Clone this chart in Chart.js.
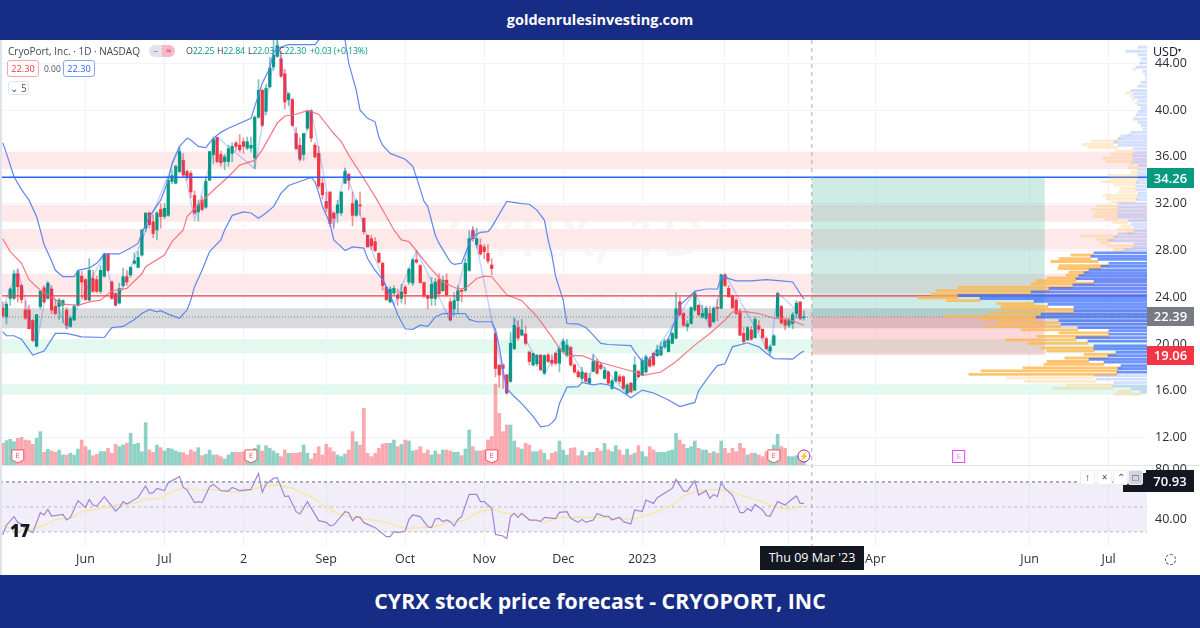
<!DOCTYPE html>
<html>
<head>
<meta charset="utf-8">
<title>CYRX stock price forecast</title>
<script src="https://cdn.jsdelivr.net/npm/chart.js@4"></script>
<style>
    html, body { margin: 0; padding: 0; background: #fff; }
    #page { position: relative; width: 1200px; height: 628px; overflow: hidden; font-family: "Open Sans", sans-serif; background: #fff; }
    #page div, #page span { position: absolute; white-space: nowrap; }
    canvas { position: absolute; left: 0; }
    #mainChart { top: 40px; }
    #profileChart { top: 40px; }
    .band { left: 0; width: 1200px; background: #172c85; color: #fff; font-weight: 700; text-align: center; }
    .badge { left: 1147px; width: 47px; color: #fff; font-size: 13px; font-weight: 600; text-align: center; }
    .mini { width: 13px; height: 13px; top: 470px; background: #fff; border: 1px solid #eceef3; border-radius: 2px; color: #444; font-size: 10px; line-height: 13px; text-align: center; }
    .box { border-radius: 3px; font-size: 9.2px; height: 15px; line-height: 15px; text-align: center; background: #fff; }
    .ohlc { top: 43px; font-size: 8.9px; line-height: 16px; color: #434651; letter-spacing: -0.2px; }
    .ohlc b { font-weight: 400; color: #089981; }
</style>
</head>
<body>
<div id="page">
    <div style="left:445px;top:192px;font-size:60px;color:rgba(120,123,134,0.06);font-weight:600">CYRX, 1D</div>
    <div style="left:497px;top:268px;font-size:30px;color:rgba(120,123,134,0.07)">CryoPort, Inc.</div>
    <canvas id="mainChart" width="1200" height="535"></canvas>
    <canvas id="profileChart" width="1147" height="425"></canvas>

    <div class="band" style="top:0;height:40px;line-height:40px;font-size:14.5px">goldenrulesinvesting.com</div>
    <div class="band" style="top:575px;height:53px;line-height:52px;font-size:21.3px">CYRX stock price forecast - CRYOPORT, INC</div>
    <div style="left:0;top:40px;width:2px;height:535px;background:#e0e3eb"></div>

    <div style="left:8px;top:42px;font-size:10px;line-height:18px;color:#434651">CryoPort, Inc. · 1D · NASDAQ</div>
    <div style="left:149px;top:45px;width:13px;height:12px;background:#e0e3eb;border-radius:6px 0 0 6px;font-size:9px;line-height:11px;text-align:center;color:#787b86">–</div>
    <div style="left:162px;top:45px;width:13px;height:12px;background:#f9b8c6;border-radius:0 6px 6px 0;font-size:9px;line-height:11px;text-align:center;color:#d81b60">≈</div>
    <div class="ohlc" style="left:186px">O<b>22.25</b></div>
    <div class="ohlc" style="left:217px">H<b>22.84</b></div>
    <div class="ohlc" style="left:248px">L<b>22.03</b></div>
    <div class="ohlc" style="left:279px">C<b>22.30</b></div>
    <div class="ohlc" style="left:310px"><b>+0.03 (+0.13%)</b></div>
    <div class="box" style="left:7px;top:60px;width:30px;border:1px solid #f7a6ad;color:#f23645">22.30</div>
    <div style="left:44px;top:60px;font-size:8.5px;line-height:17px;color:#50535e">0.00</div>
    <div class="box" style="left:63px;top:60px;width:30px;border:1px solid #86a5f5;color:#2962ff">22.30</div>
    <div class="box" style="left:8px;top:81px;width:19px;height:12px;line-height:12px;border:1px solid #e0e3eb;color:#50535e;font-size:10px">⌄ 5</div>

    <div style="left:1148px;top:41px;width:50px;height:17px;background:#fff;font-size:12.5px;line-height:19px;color:#131722;padding-left:5px">USD<sub style="font-size:6px;vertical-align:4px">▾</sub></div>
    <div class="badge" style="top:168px;height:20px;line-height:20px;background:#089981">34.26</div>
    <div class="badge" style="top:307px;height:19px;line-height:19px;background:#787b86">22.39</div>
    <div class="badge" style="top:346px;height:19px;line-height:19px;background:#f23645">19.06</div>

    <div style="left:1123px;top:473px;width:23px;height:19px;background:#131722"></div>
    <div class="mini" style="left:1080px">↑</div>
    <div class="mini" style="left:1097px">×</div>
    <div class="mini" style="left:1113px">⌃</div>
    <div class="mini" style="left:1128px;background:#d1d4dc">□</div>
    <div class="badge" style="left:1146px;width:48px;top:470px;height:22px;line-height:22px;background:#131722">70.93</div>

    <div style="left:10px;top:522px;font-size:17px;font-weight:800;color:#131722;line-height:18px">17</div>
    <div style="left:760px;top:546px;width:104px;height:24px;line-height:24px;text-align:center;background:#131722;color:#fff;font-size:12.5px">Thu 09 Mar '23</div>
    <div style="left:1165px;top:554px;width:9px;height:9px;border:1.5px dashed #50535e;border-radius:50%"></div>
</div>

<script>
// price candles, one entry per trading day
const opens = [
    23.05,22.3,23.9,23.9,26,25,22.9,22.9,22,19.8,23.2,24.8,23.9,24.7,23.2,23.2,23.3,22.9,21.5,22.05,
    23.3,25.8,25.5,23.75,25.6,25.5,24.5,25.8,27.7,25.3,24.3,23.5,25,25.75,25.9,26.9,26.55,27.6,29.9,31.2,
    30.45,29.75,31.5,30.9,31,33.9,33.75,34.75,35.7,34.75,34.6,32.7,31.3,32.3,31.7,34,36.2,37.65,36.2,35.6,
    35.6,36.3,37.2,37,37.3,36.75,36.75,35.9,39.4,41.7,39.9,42,43.7,44.6,44.4,43.1,40.9,40.9,38,37,
    36.2,38.45,39.95,37,36.3,33.75,32.2,33,31.2,31.2,31.2,33.75,34.5,32,31,31.9,30.75,29.3,29,28.75,
    27.75,26.9,24.85,23.6,24.35,24.2,23.9,24.85,25.3,25.2,27.2,26.7,25.25,24.1,23.9,23.9,25.5,24.55,25.45,23.6,
    23,23.7,24.55,24.6,26.3,29.7,28.5,28.45,28.3,27.75,26.75,20.9,18.2,18.2,17.35,16.8,19.6,21.4,20.75,20.85,
    19.3,18.2,18.3,19.05,17.5,19.05,18.6,19.2,18.35,19.35,19,19.7,18.2,17.6,17.05,17.5,16.65,17.65,18.5,18.2,
    17.05,17.6,16.2,16.85,17.2,17.2,15.8,16.65,16.05,17.65,17.35,17.6,18.65,19.2,19,19.05,19.75,19.35,20.05,20.5,
    23.6,22.6,21.5,21.75,22.9,23.3,22.3,22.2,22.6,21.9,23.1,23.05,25.9,24.75,24.1,23.75,22.8,20.9,20.35,21.2,
    20.55,21.55,21.25,20.45,19.4,19.9,22.3,23.2,22.05,21.6,21.75,22.6,23.6,22.25
];
const highs = [
    23.6,23.6,24.8,26.3,26.4,25.1,23.7,23.3,22.1,22.5,24.6,25,25.3,25,23.8,23.9,23.8,23.1,22.4,23.4,
    26.3,26.2,25.6,27.3,26.3,25.8,26.7,27.7,27.7,25.4,24.4,25.2,26.5,26.3,26.6,27.8,27.9,29.8,31.2,31.3,
    31,31.3,32,32,34.3,34.9,35.3,36.8,36.3,34.9,34.8,33.1,32.3,32.6,34.2,36.5,37.7,37.7,36.5,36.2,
    37,37.2,37.3,37.9,37.6,37.7,37.7,39.5,42.6,41.8,42.2,44.5,46,46.3,45,43.5,41.5,41,38.5,37.6,
    38,40,40,37.2,36.9,34.2,33,33,31.3,32.3,33,35,34.6,33,32.4,33,30.8,29.3,29.3,29.1,
    27.8,27,24.9,24.9,25,24.7,25.1,25,26.5,27.3,28,26.8,25.3,24.2,25.7,25.6,26,25.8,26,23.9,
    24.4,25,24.7,27.3,29.7,30,29.9,29,28.5,28.5,27.3,21.3,18.2,18.3,17.4,21,22.2,22,22.1,21.5,
    19.4,19.2,19.1,19.1,19.1,19.2,19.1,19.3,19.7,20.4,20.4,19.8,18.3,17.8,18,17.6,17.5,19.1,18.7,18.4,
    18,17.7,17,17.7,17.4,17.3,16.6,16.7,18.9,17.8,18.8,19.1,18.9,19.3,19.9,20.1,20.4,20.5,21,24.4,
    24,22.7,22,23.2,24.5,23.4,23.3,23.2,23.2,23.2,23.8,26,26,25,24.2,23.9,23,21.4,21.5,21.5,
    22.3,22,21.3,20.6,19.9,20.8,24.4,23.3,22.2,22.2,22.7,23.7,23.6,22.84
];
const lows = [
    22.3,21.7,23.3,23.8,23.6,23.5,22.1,21.3,20.2,19.8,23,23.5,23.8,22.6,22.5,22.1,21.8,21.3,21.4,22,
    23.3,23.9,23.7,23.7,24.4,24.4,24.3,25.7,26.2,23.8,23.3,23.4,24.9,25,25.7,26.8,26.5,27.5,29.6,29.9,
    29.1,28.9,29.9,30.7,30.9,33.7,33.7,34.6,34.3,34,32.5,31.1,30.5,31.4,31.6,34,35.4,35.5,35.2,34.9,
    35.2,35.6,36.5,36.4,36.3,36.6,36.4,35,39.3,38.6,39.6,41.9,43.4,44.5,42.8,40.1,40.4,38.6,36.6,35.7,
    35.7,38.3,37.3,35.9,33.3,32.4,31.3,30,29.9,30.4,31,33.7,33.2,30.1,30.9,31,29.4,28.3,28.1,27.9,
    26.9,24.6,23.7,23.5,24.2,23.3,23.5,23.4,25.1,25,26.9,25.2,24,23,23.3,23.3,24.2,24.5,24.1,22,
    22.4,22.7,23.6,24.5,26.2,28.8,28.2,27.6,27.3,26.9,25.9,17.2,16.3,16.2,15.75,16.7,19.5,20.3,20.7,19.9,
    18.2,18.1,18.1,17.7,17.4,18.4,18.1,18.2,17.6,19.2,18.9,18.1,17.5,17.1,16.8,16.7,16.6,17.6,17.4,17.8,
    17,16.6,16.1,16.7,16.6,16.1,15.7,15.8,16,17.1,17.3,17.5,18,18.1,18.9,19,19.6,19.3,20,20.4,
    22.4,21.5,21.1,21.7,22.8,22.4,22.2,22.1,21.4,21.8,22,23,24.9,24,23,22.5,20.7,20,20.3,20.3,
    20.5,21,20.4,19.5,19.1,19.85,22.2,21.7,21.2,21.4,21.3,22.2,22.1,22.03
];
const closes = [
    22.4,23.4,24.7,26,24.9,23.8,22.2,21.3,20.3,22.5,24.5,23.6,25.2,22.9,22.6,23.75,23.7,21.6,22.2,23.2,
    26.2,25.3,23.8,26.3,24.5,24.5,26.3,27.7,26.3,23.9,23.3,24.75,25.75,25.3,26.55,27.1,27.4,29.75,31.2,30.2,
    29.45,31.2,30.9,31.6,34,34.4,35.2,36.45,34.45,34.3,33,31.2,31.9,31.5,33.9,36.45,37.5,35.6,35.5,36,
    36.7,36.9,36.9,36.6,36.9,37.3,37,39.4,41.7,38.7,41.85,43.6,44.7,45.5,42.9,40.7,41.4,38.7,36.7,35.8,
    38,39.95,37.6,36,33.5,32.75,31.6,30.3,30.75,31.9,33,34.75,34,31,32.25,31.8,29.6,28.3,28.4,28,
    27,25,23.8,24.7,24.75,23.9,24.45,24.3,26.4,27.2,27,25.25,24.1,23.9,25.1,25.3,24.3,25.45,24.2,22.05,
    23.7,24.55,24.5,26.9,29,29,29,27.7,27.9,27.1,26.45,17.9,17.35,17.9,15.8,20.05,21.6,20.5,21.2,20.05,
    18.5,19.2,19.05,17.8,19,18.5,18.35,18.35,19.6,20.2,19.9,18.2,17.6,17.2,17.6,16.8,17.05,18.5,17.5,17.9,
    17.75,16.65,16.85,17.6,16.8,16.2,16.5,15.9,18.2,17.2,18.6,18.9,18.1,18.2,19.5,19.75,20.2,20.35,20.9,23,
    22.5,21.6,21.7,23.1,24.3,22.5,22.6,23.05,21.5,23.05,23.05,25.9,25,24.05,23.1,22.6,20.75,20.2,21.4,20.4,
    22.1,21.25,20.55,19.6,19.75,20.7,24.3,21.8,21.6,22,22.5,23.5,22.2,22.3
];
const volumes = [
    0.65,0.73,0.77,0.70,0.80,0.83,0.75,0.73,0.62,0.80,1.00,
    0.38,0.47,0.42,0.38,0.45,0.30,0.30,0.35,0.30,0.48,0.75,0.55,0.45,0.28,0.32,0.40,0.40,0.50,0.35,0.62,0.55,0.60,0.65,0.95,0.62,0.65,0.40,1.27,0.45,0.38,
    0.60,0.52,0.42,0.50,0.48,0.42,0.38,0.37,0.30,0.45,0.40,0.52,0.28,0.32,0.45,0.30,0.30,0.25,0.18,0.30,0.38,0.38,0.38,0.40,0.40,0.40,0.50,0.60,0.42,0.58,0.50,0.42,0.35,
    0.25,0.45,0.35,0.35,0.35,0.38,0.60,0.35,0.18,0.35,0.55,0.30,0.62,0.52,0.40,0.30,0.25,0.33,0.45,1.00,0.70,0.60,1.70,0.35,0.25,0.35,0.50,0.63,0.65,0.65,0.75,0.55,0.62,0.75,0.72,0.42,
    0.45,0.55,0.35,0.45,0.30,0.42,0.32,0.45,0.45,0.42,0.38,0.38,0.28,0.48,1.05,0.55,0.42,0.42,0.45,0.75,0.85,2.43,1.55,1.00,1.20,1.20,0.72,0.52,0.48,0.65,0.60,0.40,0.40,0.45,0.35,0.15,0.35,0.40,0.72,
    0.45,0.30,0.50,0.52,0.28,0.42,0.28,0.38,0.38,0.50,0.42,0.65,0.45,0.40,0.58,0.45,0.30,0.48,0.30,0.35,0.58,0.40,0.25,0.55,0.45,0.38,0.38,0.38,0.42,0.45,0.95,0.75,0.62,0.50,0.55,0.72,0.50,0.45,0.45,0.35,
    0.40,0.35,0.72,0.50,0.35,0.50,0.40,0.65,0.50,0.30,0.35,0.35,0.30,0.25,0.40,0.40,0.60,0.92,0.55,0.50,0.25,0.25,0.28,0.25,0.20
];

// bollinger bands, read where the lines bend: [bar, value]
const upperBand = [[0,37.2],[1,36.3],[3,34.3],[5,33.2],[7,32.3],[9,30.9],[10,29.75],[11,28.5],[13,27.1],[14,26.3],[16,25.75],[19,25.75],[20,26.3],[23,26.5],[25,26.9],[27,27.7],[31,27.7],[34,28.2],[36,28.6],[37,29.5],[39,30.9],[42,32.3],[44,34],[45,35.45],[47,36.9],[49,37.6],[50,37.45],[52,36.9],[54,36.8],[56,37.6],[58,38.1],[60,38.45],[66,39.3],[67,40.3],[69,42.3],[71,43.6],[72,45],[74,45.4],[76,45.6],[83,45.6],[84,46],[87,46.6],[91,46],[92,44],[94,41.7],[95,40],[97,39.3],[99,39],[100,37.7],[101,37],[103,36.3],[107,35.8],[109,35.2],[110,34.25],[112,32.2],[113,31.75],[115,29.3],[116,28.6],[119,27],[120,26.8],[122,26.9],[124,28.6],[125,29.2],[127,29.55],[129,29.6],[130,30],[134,32.2],[138,32],[140,31.95],[142,31.45],[144,30.6],[145,28.9],[146,27.6],[147,25.75],[149,23.75],[150,21.75],[153,21.7],[155,21.4],[157,20.75],[159,20.05],[161,19.95],[167,19.85],[168,19.35],[170,18.5],[172,18.75],[175,19.5],[177,20.5],[179,22.2],[180,23.3],[182,23.9],[184,24.5],[187,24.7],[190,24.7],[191,25.75],[192,25.7],[195,25.4],[199,25.4],[203,25.5],[207,25.4],[210,25.3],[212,24.3],[213,23.85]];
const lowerBand = [[0,21.05],[1,20.7],[3,20.7],[5,20.4],[8,19.05],[11,19.4],[14,20.9],[17,20.9],[21,20.6],[27,20.55],[29,21.4],[32,21.5],[35,22.1],[37,22.6],[39,22.95],[41,22.75],[42,22.85],[44,22.55],[47,22.2],[49,22.9],[50,23.75],[51,24.9],[53,26.3],[55,27.9],[58,28.9],[59,29.75],[61,31],[64,31.3],[66,31.2],[68,30.75],[70,31.2],[72,31.75],[74,32.9],[76,33.55],[79,33.9],[82,34.25],[83,33.9],[84,32.9],[85,31.75],[87,30.3],[88,28.9],[89,28.6],[91,28],[93,28.3],[96,28.2],[97,27.3],[99,26.3],[101,25.5],[103,24.2],[105,22.5],[107,21.3],[109,21.25],[111,21.6],[113,21.5],[115,22.3],[117,22.6],[123,22.6],[124,22.1],[126,21.9],[130,21.9],[131,21.2],[132,19.8],[133,17.8],[134,16.2],[136,15.5],[138,14.9],[141,13.8],[143,12.9],[145,13],[146,13.25],[147,13.6],[148,14.9],[150,16.3],[153,16.35],[154,16.7],[157,16.5],[159,16.6],[161,16.5],[164,16.05],[167,15.4],[170,16.05],[173,15.8],[177,15.2],[180,14.65],[184,15],[185,16],[188,17.35],[190,18.15],[192,18.3],[194,19.75],[198,20.1],[201,19.75],[203,19.2],[205,18.75],[210,18.7],[212,19.2],[213,19.4]];
const basisBand = [[0,29],[2,27.9],[5,26.9],[7,25.5],[10,24.6],[13,24],[16,23.4],[20,23.3],[23,23.6],[26,23.75],[29,24.55],[33,24.75],[37,26],[38,26.6],[43,27.6],[45,28.75],[48,29.75],[49,30.9],[52,31.9],[56,33.15],[60,34.3],[63,35.3],[67,35.7],[69,36.6],[73,38.9],[75,39.5],[78,39.65],[81,39.95],[84,39.65],[88,38],[90,37.3],[92,36.15],[96,34.15],[99,32.6],[102,30.9],[104,29.75],[106,28.9],[108,28.75],[113,26.75],[117,25.3],[121,24.7],[123,24.75],[126,25.6],[128,25.8],[130,25.75],[134,24.2],[138,23.7],[142,22.35],[146,20.6],[148,19.6],[150,19],[154,19],[158,18.5],[163,18.05],[168,17.6],[170,17.3],[175,17.6],[179,18.5],[184,19.9],[188,20.9],[192,22.05],[194,22.75],[198,22.75],[201,22.6],[205,22.2],[209,22.1],[213,21.6]];
const zigzag = [[0,23],[4,26.4],[9,19.8],[12,25.3],[17,21.3],[27,27.7],[30,23.3],[47,36.8],[51,30.6],[57,37.7],[67,35],[73,46],[79,35.7],[82,40],[88,30],[91,35],[98,28.1],[104,23.3],[110,28],[119,22],[125,30],[134,15.75],[136,22.2],[144,17.4],[149,20.4],[156,16.6],[157,19.1],[166,15.7],[184,24.5],[188,21.4],[192,26],[204,19.1],[206,24.4],[211,22.9],[212,22.1],[213,22.3]];

// RSI pane
const rsiLine = [[0,27.5],[1,35.5],[3,42.2],[4,37.6],[5,36.3],[6,32.8],[8,29.4],[10,45.4],[11,43.5],[12,48],[13,42.7],[16,44],[17,39.5],[18,41.6],[20,55],[22,49.6],[23,56],[24,51.5],[25,50.7],[27,58.2],[29,50.7],[30,46.7],[31,49.4],[32,54.2],[33,52.3],[36,57.6],[38,66.7],[39,60.8],[40,61.4],[41,64.8],[43,63],[44,69.4],[45,71],[47,74.2],[48,65.6],[49,63.5],[51,53.4],[52,54.2],[53,53.4],[55,66.2],[56,68],[58,63],[60,62.7],[61,65.6],[63,63],[66,64],[68,76.8],[69,61.6],[70,68.3],[72,72.8],[73,73.4],[75,58.2],[76,58.7],[78,46.2],[79,44.3],[81,54.2],[84,39],[86,37.6],[87,35],[88,35.5],[91,46.2],[92,45.4],[93,39],[94,42.2],[95,41.6],[96,37.4],[99,33.4],[102,26.2],[103,26.2],[104,30.2],[105,29.4],[107,30.7],[108,40],[109,43.5],[111,42.2],[112,38.2],[113,34.2],[114,33.4],[115,40.3],[116,40.8],[117,38.2],[118,39.5],[119,38.2],[120,34.7],[121,40],[122,42.2],[124,60],[126,60],[127,54.2],[128,54.2],[130,48.8],[131,28],[133,26.7],[134,24.8],[135,42.2],[136,44.8],[137,41.6],[138,44.8],[140,39.5],[142,39.5],[143,38.2],[144,41.6],[147,40.6],[148,45.6],[150,46.2],[151,40.8],[153,37.6],[154,40],[155,37.6],[157,39.5],[158,44.8],[160,42.2],[161,42.7],[162,39.5],[163,40.8],[164,41.6],[165,38.2],[167,36.3],[168,47.5],[170,46.2],[171,55.5],[173,52.8],[174,57.4],[177,63],[178,64.8],[179,72],[181,62.7],[182,62.7],[184,71],[185,59.5],[187,63],[188,56.8],[189,60],[190,58.2],[191,69.4],[192,64.8],[194,59.5],[196,45.4],[197,45.4],[198,48.8],[199,46.7],[200,52],[202,47.5],[203,43],[204,42.7],[206,54.2],[208,51.5],[209,54.2],[211,58.7],[212,52.8],[213,52.8]];
const rsiAverage = [[0,35.5],[2,32.8],[5,31.5],[8,32.8],[11,35.5],[14,40],[18,40.8],[21,46.2],[26,48.8],[30,51.5],[35,52.8],[38,56],[42,56.8],[45,62.2],[48,65.6],[52,63.5],[56,64],[61,61.6],[66,63.5],[69,66.2],[73,67.5],[77,64.8],[82,58.2],[85,51.5],[89,44.8],[93,41.6],[97,40],[101,38.2],[107,32.8],[111,33.4],[115,34.2],[118,37.4],[123,39.5],[126,45.4],[130,48],[134,44.8],[138,44.3],[140,40],[144,37.4],[148,41.6],[154,41.6],[159,41.6],[164,40.3],[168,40.3],[173,44.8],[178,51.5],[181,58.7],[185,63],[189,64],[193,63.5],[196,59.5],[200,56],[203,52.8],[207,48.8],[209,48.3],[213,50.7]];

// volume profile rows at the right of the chart
const profilePrices = [45.29,44.94,44.63,44.29,43.95,43.58,43.23,42.92,42.58,42.29,41.95,41.58,41.3,41,40.7,40.35,40.07,39.78,39.5,39.15,38.87,38.6,38.3,38,37.7,37.45,37.16,36.9,36.6,36.3,36,35.7,35.45,35.16,34.8,34.5,34.25,33.97,33.7,33.4,33.1,32.8,32.54,32.25,31.9,31.6,31.3,31,30.75,30.46,30.17,29.9,29.6,29.32,29.04,28.75,28.47,28.18,27.98,27.7,27.4,27.15,26.8,26.55,26.25,26,25.75,25.5,25.25,24.95,24.65,24.35,24.05,23.8,23.55,23.3,23.05,22.75,22.45,22.2,21.9,21.6,21.3,21.05,20.75,20.45,20.15,19.75,19.5,19.2,18.9,18.6,18.35,18.05,17.8,17.5,17.2,16.9,16.6,16.3,16.05,15.8];
const profileUp = [9,21,9,6,7,11,4,2,1,6,9,16,14,13,9,9,6,9,11,14,9,6,4,16,26,29,33,29,14,13,14,14,14,9,9,9,9,9,11,11,11,9,9,11,29,29,29,29,29,19,16,14,13,29,33,39,13,14,23,53,56,49,38,46,58,63,68,71,53,74,98,116,189,167,113,99,73,73,106,111,88,86,69,38,38,71,59,53,53,31,39,58,43,26,29,30,53,51,33,34,16,6];
const profileDown = [0,0,0,0,0,3,0,0,0,0,0,5,3,2,3,0,0,0,0,0,0,0,0,2,3,27,32,30,18,23,30,27,3,10,7,30,28,37,22,15,18,35,32,25,22,27,23,25,13,15,10,15,7,37,18,8,27,20,10,23,32,47,50,43,20,18,32,40,63,115,112,100,40,34,37,47,73,85,97,55,62,77,57,50,72,70,60,53,47,32,43,42,60,98,137,148,88,72,47,60,13,27];
const valueAreaHigh = 27.85;
const valueAreaLow = 17.35;

// price zones and levels
const pinkZones = [[36.45,34.96],[31.9,30.46],[29.83,28.1],[26,24.33]];
const greyZones = [[23.05,21.34]];
const greenZones = [[20.4,19.2],[16.55,15.66]];
const blueLevel = 34.26;
const redLevel = 24.12;
const lastClose = 22.3;
const entryPrice = 22.39;
const stopPrice = 19.06;

// bars and labels of the axes
const tickBars = [22,43,64,86,107,128,149,170,192,209,232,273,294];
const tickLabels = ['Jun','Jul','2','Sep','Oct','Nov','Dec','2023','','','Apr','Jun','Jul'];
const priceTicks = [12,16,20,24,28,32,36,40,44];
const rsiTicks = [80,40];
const rsiLevels = [70,50,30];
const earningsBars = [4,66,130,205];
const futureEarningsBar = 254;
const boltBar = 213;
const crossBar = 215.1;
const toolEndBar = 277;
const markerPrice = 10.42;

const firstBar = -0.72;
const lastBar = 304.2;

const toPoints = pairs => pairs.map(p => ({ x: p[0], y: p[1] }));
const isUp = i => closes[i] >= opens[i];

// zones, position tool and RSI backdrop go under the candles
const backdropPlugin = {
    id: 'backdrop',
    beforeDatasetsDraw(chart) {
        const { ctx, chartArea, scales } = chart;
        const y = scales.y;
        const x = scales.x;
        const rsi = scales.rsi;
        const fillZone = (top, bottom, color, left, right) => {
            ctx.fillStyle = color;
            ctx.fillRect(left, y.getPixelForValue(top), right - left, y.getPixelForValue(bottom) - y.getPixelForValue(top));
        };
        ctx.save();
        pinkZones.forEach(z => fillZone(z[0], z[1], '#fde9e9', chartArea.left, chartArea.right));
        greyZones.forEach(z => fillZone(z[0], z[1], '#d9dade', chartArea.left, chartArea.right));
        greenZones.forEach(z => fillZone(z[0], z[1], '#e3f8ee', chartArea.left, chartArea.right));

        // position tool
        const toolLeft = x.getPixelForValue(crossBar);
        const toolRight = x.getPixelForValue(toolEndBar);
        fillZone(blueLevel, entryPrice, 'rgba(8,153,129,0.2)', toolLeft, toolRight);
        fillZone(entryPrice, stopPrice, 'rgba(242,54,69,0.2)', toolLeft, toolRight);

        // RSI band
        ctx.fillStyle = 'rgba(126,87,194,0.1)';
        ctx.fillRect(chartArea.left, rsi.getPixelForValue(70), chartArea.right, rsi.getPixelForValue(30) - rsi.getPixelForValue(70));
        ctx.strokeStyle = '#f0f3fa';
        ctx.lineWidth = 1;
        ctx.beginPath();
        ctx.moveTo(chartArea.left, rsi.getPixelForValue(40));
        ctx.lineTo(chartArea.right, rsi.getPixelForValue(40));
        ctx.stroke();
        ctx.setLineDash([3, 3]);
        rsiLevels.forEach(level => {
            ctx.strokeStyle = level === 70 ? '#9598a1' : '#b7b9c2';
            ctx.lineWidth = level === 70 ? 1.5 : 1;
            ctx.beginPath();
            ctx.moveTo(chartArea.left, rsi.getPixelForValue(level));
            ctx.lineTo(chartArea.right, rsi.getPixelForValue(level));
            ctx.stroke();
        });
        ctx.restore();
    },
    afterDatasetsDraw(chart) {
        const { ctx, chartArea, scales, width } = chart;
        const y = scales.y;
        const x = scales.x;
        const rsi = scales.rsi;
        const hLine = (value, color, lineWidth, dash) => {
            ctx.strokeStyle = color;
            ctx.lineWidth = lineWidth;
            ctx.setLineDash(dash);
            ctx.beginPath();
            ctx.moveTo(chartArea.left, y.getPixelForValue(value));
            ctx.lineTo(chartArea.right, y.getPixelForValue(value));
            ctx.stroke();
        };
        ctx.save();
        hLine(blueLevel, '#2962ff', 1.5, []);
        hLine(redLevel, '#f23645', 1.2, []);
        hLine(lastClose, '#5f8f88', 1, [1, 2]);

        // crosshair
        const crossX = x.getPixelForValue(crossBar);
        ctx.strokeStyle = '#a8abb3';
        ctx.lineWidth = 1;
        ctx.setLineDash([4, 4]);
        ctx.beginPath();
        ctx.moveTo(crossX, chartArea.top);
        ctx.lineTo(crossX, chartArea.bottom);
        ctx.stroke();
        ctx.setLineDash([]);

        // pane separator sits on the volume base
        const sepY = Math.round(scales.vol.getPixelForValue(0)) + 0.5;
        ctx.strokeStyle = '#e0e3eb';
        ctx.beginPath();
        ctx.moveTo(0, sepY);
        ctx.lineTo(width, sepY);
        ctx.stroke();

        // RSI axis labels
        ctx.fillStyle = '#2a2e39';
        ctx.font = '12.5px "Open Sans"';
        ctx.textBaseline = 'middle';
        ctx.textAlign = 'left';
        rsiTicks.forEach(v => ctx.fillText(v.toFixed(2), chartArea.right + 8, rsi.getPixelForValue(v)));

        // earnings flags
        const markY = y.getPixelForValue(markerPrice);
        ctx.textAlign = 'center';
        ctx.font = '8px "Open Sans"';
        earningsBars.forEach(bar => {
            const px = x.getPixelForValue(bar);
            ctx.beginPath();
            ctx.moveTo(px - 6, markY - 6);
            ctx.lineTo(px + 6, markY - 6);
            ctx.lineTo(px + 6, markY + 4);
            ctx.lineTo(px, markY + 7);
            ctx.lineTo(px - 6, markY + 4);
            ctx.closePath();
            ctx.fillStyle = '#fff';
            ctx.fill();
            ctx.strokeStyle = '#f7525f';
            ctx.lineWidth = 1;
            ctx.stroke();
            ctx.fillStyle = '#f7525f';
            ctx.fillText('E', px, markY - 0.5);
        });
        const futureX = x.getPixelForValue(futureEarningsBar);
        ctx.strokeStyle = '#e040fb';
        ctx.strokeRect(futureX - 5.5, markY - 5.5, 12, 12);
        ctx.fillStyle = '#e88bf5';
        ctx.fillText('E', futureX + 0.5, markY + 0.5);

        // bolt marker at the last bar
        const boltX = x.getPixelForValue(boltBar);
        ctx.beginPath();
        ctx.arc(boltX, markY, 6, 0, Math.PI * 2);
        ctx.fillStyle = '#fff';
        ctx.fill();
        ctx.strokeStyle = '#9c27b0';
        ctx.stroke();
        ctx.fillStyle = '#9c27b0';
        ctx.fillText('⚡', boltX, markY + 0.5);
        ctx.restore();
    }
};

function candleColor(i, alpha) {
    return isUp(i) ? `rgba(8,153,129,${alpha})` : `rgba(242,54,69,${alpha})`;
}

const bars = opens.map((_, i) => i);

new Chart(document.getElementById('mainChart'), {
    data: {
        datasets: [
            { type: 'line', label: 'Zigzag', data: toPoints(zigzag), borderColor: 'rgba(41,98,255,0.28)', borderWidth: 1.4, pointRadius: 0, order: 1 },
            { type: 'line', label: 'Upper', data: toPoints(upperBand), borderColor: '#5f86ef', borderWidth: 1.2, pointRadius: 0, order: 2 },
            { type: 'line', label: 'Lower', data: toPoints(lowerBand), borderColor: '#5f86ef', borderWidth: 1.2, pointRadius: 0, order: 2 },
            { type: 'line', label: 'Basis', data: toPoints(basisBand), borderColor: '#f5777f', borderWidth: 1.2, pointRadius: 0, order: 2 },
            { type: 'line', label: 'RSI', data: toPoints(rsiLine), yAxisID: 'rsi', borderColor: '#a284d6', borderWidth: 1.2, pointRadius: 0, order: 1 },
            { type: 'line', label: 'RSI MA', data: toPoints(rsiAverage), yAxisID: 'rsi', borderColor: '#f8e79a', borderWidth: 1.3, pointRadius: 0, order: 2 },
            {
                type: 'bar', label: 'Body', grouped: false, order: 3, barThickness: 2.6, minBarLength: 1, borderSkipped: false,
                data: bars.map(i => ({ x: i, y: [opens[i], closes[i]] })),
                backgroundColor: bars.map(i => candleColor(i, 1))
            },
            {
                type: 'bar', label: 'Wick', grouped: false, order: 4, barThickness: 1, borderSkipped: false,
                data: bars.map(i => ({ x: i, y: [lows[i], highs[i]] })),
                backgroundColor: bars.map(i => candleColor(i, 0.55))
            },
            {
                type: 'bar', label: 'Volume', grouped: false, order: 5, yAxisID: 'vol', barThickness: 3,
                data: bars.map(i => ({ x: i, y: volumes[i] })),
                backgroundColor: bars.map(i => isUp(i) ? 'rgba(8,153,129,0.45)' : 'rgba(247,82,95,0.5)')
            }
        ]
    },
    options: {
        responsive: false,
        animation: false,
        layout: { padding: 0 },
        plugins: { legend: { display: false }, tooltip: { enabled: false } },
        scales: {
            x: {
                type: 'linear',
                offset: false,
                min: firstBar,
                max: lastBar,
                border: { display: false },
                grid: { color: '#f0f3fa', drawTicks: false, offset: false },
                ticks: {
                    autoSkip: false,
                    maxRotation: 0,
                    padding: 5,
                    color: '#2a2e39',
                    font: { family: 'Open Sans', size: 12.5 },
                    callback: value => tickLabels[tickBars.indexOf(value)] ?? ''
                },
                afterBuildTicks: axis => { axis.ticks = tickBars.map(v => ({ value: v })); },
                afterFit: axis => { axis.height = 28; axis.paddingLeft = 0; axis.paddingRight = 0; }
            },
            y: {
                position: 'right',
                min: 2.63,
                max: 46,
                border: { display: false },
                grid: { color: '#f0f3fa', drawTicks: false },
                ticks: {
                    padding: 8,
                    color: '#2a2e39',
                    font: { family: 'Open Sans', size: 12.5 },
                    callback: value => value.toFixed(2)
                },
                afterBuildTicks: axis => { axis.ticks = priceTicks.map(v => ({ value: v })); },
                afterFit: axis => { axis.width = 53; axis.paddingTop = 0; axis.paddingBottom = 0; }
            },
            vol: { axis: 'y', display: false, min: -2.46, max: 12.75 },
            rsi: { axis: 'y', display: false, min: 17.92, max: 423.52 }
        }
    },
    plugins: [backdropPlugin]
});

// volume profile lives on its own transparent canvas, on the price range of the upper pane
const inValueArea = p => p <= valueAreaHigh && p >= valueAreaLow;

new Chart(document.getElementById('profileChart'), {
    type: 'bar',
    data: {
        datasets: [
            {
                label: 'Up',
                data: profilePrices.map((p, i) => ({ y: p, x: profileUp[i] })),
                backgroundColor: profilePrices.map(p => inValueArea(p) ? 'rgba(41,98,255,0.68)' : 'rgba(41,98,255,0.2)'),
                barThickness: 2.2
            },
            {
                label: 'Down',
                data: profilePrices.map((p, i) => ({ y: p, x: profileDown[i] })),
                backgroundColor: profilePrices.map(p => inValueArea(p) ? 'rgba(255,183,77,0.8)' : 'rgba(255,183,77,0.28)'),
                barThickness: 2.2
            }
        ]
    },
    options: {
        indexAxis: 'y',
        responsive: false,
        animation: false,
        layout: { padding: 0 },
        plugins: { legend: { display: false }, tooltip: { enabled: false } },
        scales: {
            x: { display: false, stacked: true, reverse: true, min: 0, max: 1147 },
            y: { display: false, type: 'linear', offset: false, min: 9.65, max: 46 }
        }
    }
});
</script>
</body>
</html>
